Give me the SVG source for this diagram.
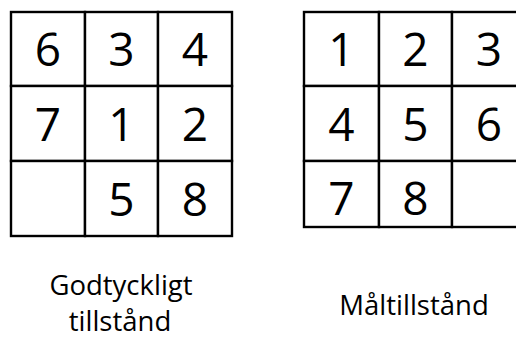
<svg xmlns="http://www.w3.org/2000/svg" width="516" height="338" viewBox="0 0 516 338">
<style>
.cell{fill:#fff;stroke:#000;stroke-width:2.4}
.d{font-family:"Open Sans","Noto Sans",sans-serif;font-size:46px;fill:#000;text-anchor:middle}
.lbl{font-family:"Open Sans","Noto Sans",sans-serif;font-size:27.5px;fill:#000;text-anchor:middle}
</style>
<rect width="516" height="338" fill="#fff"/>
<g id="start-state">
  <g id="s-r1c1"><rect class="cell" x="11" y="12" width="74" height="74"/><text class="d" x="48" y="66">6</text></g>
  <g id="s-r1c2"><rect class="cell" x="85" y="12" width="73" height="74"/><text class="d" x="121.5" y="66">3</text></g>
  <g id="s-r1c3"><rect class="cell" x="158" y="12" width="74" height="74"/><text class="d" x="195" y="66">4</text></g>
  <g id="s-r2c1"><rect class="cell" x="11" y="86" width="74" height="75"/><text class="d" x="48" y="141">7</text></g>
  <g id="s-r2c2"><rect class="cell" x="85" y="86" width="73" height="75"/><text class="d" x="121.5" y="141">1</text></g>
  <g id="s-r2c3"><rect class="cell" x="158" y="86" width="74" height="75"/><text class="d" x="195" y="141">2</text></g>
  <g id="s-r3c1"><rect class="cell" x="11" y="161" width="74" height="75"/></g>
  <g id="s-r3c2"><rect class="cell" x="85" y="161" width="73" height="75"/><text class="d" x="121.5" y="216">5</text></g>
  <g id="s-r3c3"><rect class="cell" x="158" y="161" width="74" height="75"/><text class="d" x="195" y="216">8</text></g>
</g>
<g id="goal-state">
  <g id="g-r1c1"><rect class="cell" x="304" y="12" width="75" height="74"/><text class="d" x="341.5" y="66">1</text></g>
  <g id="g-r1c2"><rect class="cell" x="379" y="12" width="73" height="74"/><text class="d" x="415.5" y="66">2</text></g>
  <g id="g-r1c3"><rect class="cell" x="452" y="12" width="75" height="74"/><text class="d" x="489" y="66">3</text></g>
  <g id="g-r2c1"><rect class="cell" x="304" y="86" width="75" height="75"/><text class="d" x="341.5" y="141">4</text></g>
  <g id="g-r2c2"><rect class="cell" x="379" y="86" width="73" height="75"/><text class="d" x="415.5" y="141">5</text></g>
  <g id="g-r2c3"><rect class="cell" x="452" y="86" width="75" height="75"/><text class="d" x="489" y="141">6</text></g>
  <g id="g-r3c1"><rect class="cell" x="304" y="161" width="75" height="66"/><text class="d" x="341.5" y="215">7</text></g>
  <g id="g-r3c2"><rect class="cell" x="379" y="161" width="73" height="66"/><text class="d" x="415.5" y="215">8</text></g>
  <g id="g-r3c3"><rect class="cell" x="452" y="161" width="75" height="66"/></g>
</g>
<g id="labels">
  <text class="lbl" x="121" y="295">Godtyckligt</text>
  <text class="lbl" x="120" y="331">tillstånd</text>
  <text class="lbl" x="414" y="315">Måltillstånd</text>
</g>
<g id="connectors"/>
</svg>
